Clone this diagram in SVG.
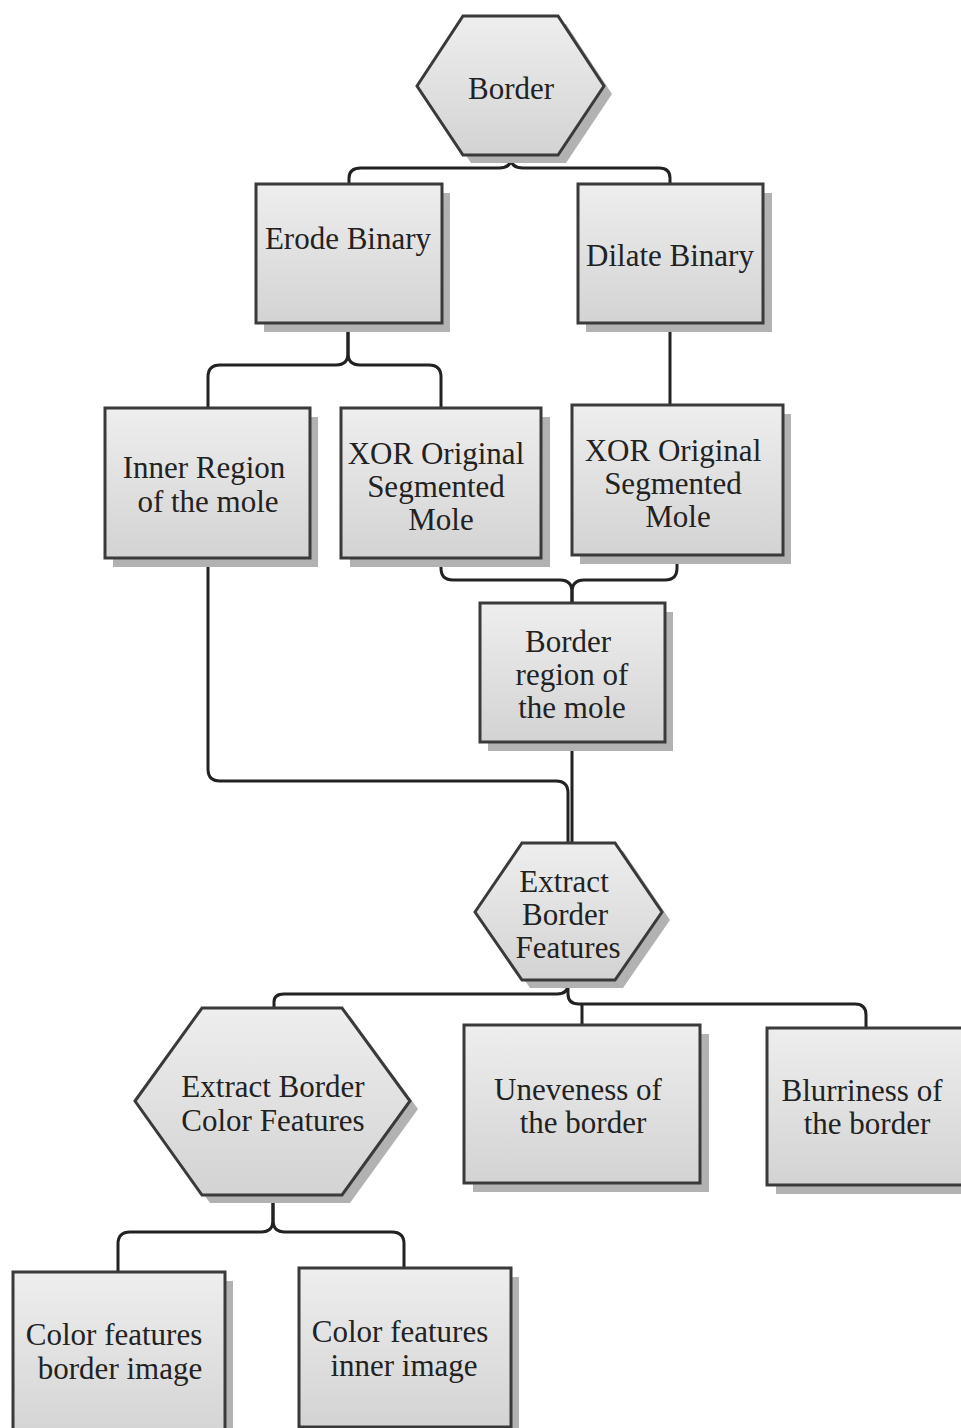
<svg xmlns="http://www.w3.org/2000/svg" width="961" height="1428" viewBox="0 0 961 1428">
<style>
.sh{fill:#b2b2b2;stroke:none}
.nd{fill:url(#g);stroke:#3a3a3a;stroke-width:3}
.t{font-family:'Liberation Serif','DejaVu Serif',serif;font-size:31px;fill:#222;text-anchor:middle}
.c{fill:none;stroke:#222;stroke-width:3;stroke-linejoin:round}
</style>
<defs>
<linearGradient id="g" x1="0" y1="0" x2="0" y2="1">
<stop offset="0" stop-color="#eeeeee"/>
<stop offset="1" stop-color="#d3d3d3"/>
</linearGradient>
</defs>
<rect width="961" height="1428" fill="#ffffff"/>
<g id="connectors">
<path class="c" d="M511,155 V158 Q511,168 499,168 H361 Q349,168 349,178 V184"/>
<path class="c" d="M511,155 V158 Q511,168 523,168 H659 Q670,168 670,178 V184"/>
<path class="c" d="M348,323 V353 Q348,365 336,365 H220 Q208,365 208,377 V408"/>
<path class="c" d="M348,323 V353 Q348,365 360,365 H429 Q441,365 441,377 V408"/>
<path class="c" d="M670,323 V405"/>
<path class="c" d="M441,558 V568 Q441,580 453,580 H560 Q572,580 572,592 V603"/>
<path class="c" d="M677,555 V568 Q677,580 665,580 H584 Q572,580 572,592 V603"/>
<path class="c" d="M572,742 V843"/>
<path class="c" d="M208,558 V769 Q208,781 220,781 H556 Q568,781 568,793 V843"/>
<path class="c" d="M568,980 V984 Q568,994 557,994 H284 Q274,994 274,1002 V1008"/>
<path class="c" d="M568,980 V994 Q568,1004 579,1004 H855 Q866,1004 866,1015 V1028"/>
<path class="c" d="M582,1004 V1025"/>
<path class="c" d="M273,1195 V1220 Q273,1232 261,1232 H130 Q118,1232 118,1244 V1272"/>
<path class="c" d="M273,1195 V1220 Q273,1232 285,1232 H392 Q404,1232 404,1244 V1268"/>
</g>
<g id="border">
<polygon class="sh" points="425,94 471,24 566,24 612,94 566,163 471,163"/>
<polygon class="nd" points="417,86 463,16 558,16 604,86 558,155 463,155"/>
<text class="t" x="511" y="99">Border</text>
</g>
<g id="erode">
<rect class="sh" x="264" y="193" width="186" height="139"/>
<rect class="nd" x="256" y="184" width="186" height="139"/>
<text class="t" x="348" y="249">Erode Binary</text>
</g>
<g id="dilate">
<rect class="sh" x="586" y="193" width="186" height="139"/>
<rect class="nd" x="578" y="184" width="185" height="139"/>
<text class="t" x="670" y="266">Dilate Binary</text>
</g>
<g id="inner">
<rect class="sh" x="113" y="417" width="205" height="150"/>
<rect class="nd" x="105" y="408" width="205" height="150"/>
<text class="t" x="204" y="478">Inner Region</text>
<text class="t" x="208" y="512">of the mole</text>
</g>
<g id="xor1">
<rect class="sh" x="350" y="417" width="200" height="150"/>
<rect class="nd" x="341" y="408" width="200" height="150"/>
<text class="t" x="436" y="464">XOR Original</text>
<text class="t" x="436" y="497">Segmented</text>
<text class="t" x="441" y="530">Mole</text>
</g>
<g id="xor2">
<rect class="sh" x="580" y="414" width="211" height="150"/>
<rect class="nd" x="572" y="405" width="211" height="150"/>
<text class="t" x="673" y="461">XOR Original</text>
<text class="t" x="673" y="494">Segmented</text>
<text class="t" x="678" y="527">Mole</text>
</g>
<g id="borderregion">
<rect class="sh" x="488" y="612" width="185" height="139"/>
<rect class="nd" x="480" y="603" width="185" height="139"/>
<text class="t" x="568" y="652">Border</text>
<text class="t" x="572" y="685">region of</text>
<text class="t" x="572" y="718">the mole</text>
</g>
<g id="extractborder">
<polygon class="sh" points="483,920 530,851 623,851 670,920 623,988 530,988"/>
<polygon class="nd" points="475,912 522,843 615,843 662,912 615,980 522,980"/>
<text class="t" x="564" y="892">Extract</text>
<text class="t" x="565" y="925">Border</text>
<text class="t" x="568" y="958">Features</text>
</g>
<g id="extractcolor">
<polygon class="sh" points="143,1109 210,1016 350,1016 418,1109 350,1203 210,1203"/>
<polygon class="nd" points="135,1101 202,1008 342,1008 410,1101 342,1195 202,1195"/>
<text class="t" x="273" y="1097">Extract Border</text>
<text class="t" x="273" y="1131">Color Features</text>
</g>
<g id="uneveness">
<rect class="sh" x="473" y="1034" width="236" height="158"/>
<rect class="nd" x="464" y="1025" width="236" height="158"/>
<text class="t" x="578" y="1100">Uneveness of</text>
<text class="t" x="583" y="1133">the border</text>
</g>
<g id="blurriness">
<rect class="sh" x="776" y="1037" width="210" height="157"/>
<rect class="nd" x="767" y="1028" width="210" height="157"/>
<text class="t" x="862" y="1101">Blurriness of</text>
<text class="t" x="867" y="1134">the border</text>
</g>
<g id="colorborder">
<rect class="sh" x="21" y="1281" width="212" height="170"/>
<rect class="nd" x="13" y="1272" width="212" height="170"/>
<text class="t" x="114" y="1345">Color features</text>
<text class="t" x="120" y="1379">border image</text>
</g>
<g id="colorinner">
<rect class="sh" x="307" y="1277" width="212" height="159"/>
<rect class="nd" x="299" y="1268" width="212" height="159"/>
<text class="t" x="400" y="1342">Color features</text>
<text class="t" x="404" y="1376">inner image</text>
</g>
</svg>
